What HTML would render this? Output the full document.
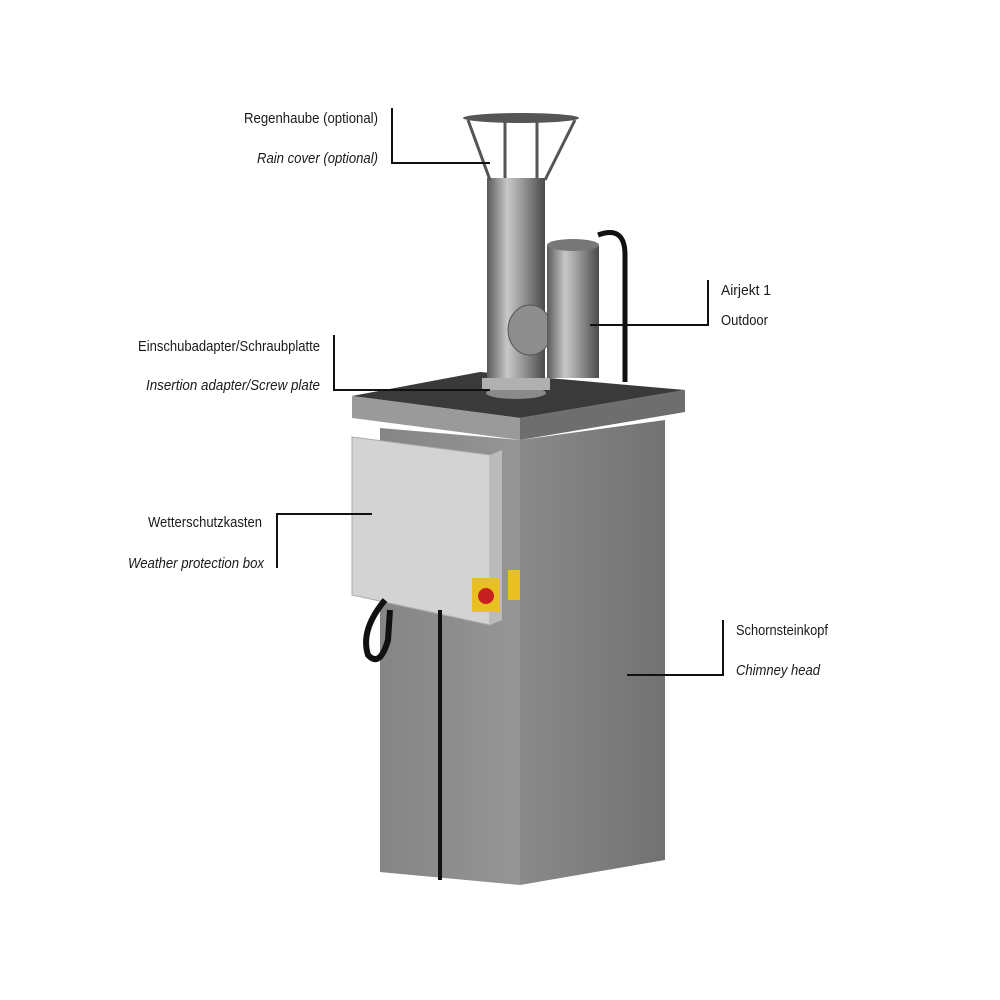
<!DOCTYPE html>
<html><head><meta charset="utf-8"><style>
html,body{margin:0;padding:0;background:#fff;width:1000px;height:1000px;overflow:hidden}
svg{display:block}
text{font-family:"Liberation Sans Narrow","Liberation Sans",sans-serif;font-size:15px;fill:#1a1a1a}
.i{font-style:italic}
</style></head><body>
<svg width="1000" height="1000" viewBox="0 0 1000 1000">
<defs>
<linearGradient id="pipe" x1="0" x2="1" y1="0" y2="0">
<stop offset="0" stop-color="#5a5a5a"/><stop offset="0.35" stop-color="#c8c8c8"/><stop offset="0.6" stop-color="#9a9a9a"/><stop offset="1" stop-color="#4a4a4a"/></linearGradient>
<linearGradient id="front" x1="0" x2="1"><stop offset="0" stop-color="#858585"/><stop offset="1" stop-color="#959595"/></linearGradient>
<linearGradient id="side" x1="0" x2="1"><stop offset="0" stop-color="#8a8a8a"/><stop offset="1" stop-color="#727272"/></linearGradient>
</defs>
<polygon points="380,428 520,440 520,885 380,872" fill="url(#front)"/>
<polygon points="520,440 665,420 665,860 520,885" fill="url(#side)"/>
<polygon points="352,396 480,372 685,390 520,418" fill="#3a3a3a"/>
<polygon points="352,396 520,418 520,440 352,418" fill="#9a9a9a"/>
<polygon points="520,418 685,390 685,412 520,440" fill="#6e6e6e"/>
<rect x="487" y="178" width="58" height="215" fill="url(#pipe)"/>
<ellipse cx="516" cy="393" rx="30" ry="6" fill="#8a8a8a"/>
<rect x="482" y="378" width="68" height="12" fill="#b0b0b0"/>
<ellipse cx="521" cy="118" rx="58" ry="5" fill="#555"/>
<g stroke="#555" stroke-width="3" fill="none">
<path d="M468,120 L490,180"/><path d="M575,120 L545,180"/><path d="M505,121 L505,178"/><path d="M537,121 L537,178"/>
</g>
<ellipse cx="530" cy="330" rx="22" ry="25" fill="#8d8d8d" stroke="#555"/>
<rect x="547" y="245" width="52" height="133" fill="url(#pipe)"/>
<ellipse cx="573" cy="245" rx="26" ry="6" fill="#777"/>
<path d="M598,235 Q625,225 625,255 L625,382" stroke="#111" stroke-width="5" fill="none"/>
<polygon points="352,437 490,455 490,625 352,595" fill="#d3d3d3" stroke="#aaa"/>
<polygon points="490,455 502,450 502,620 490,625" fill="#bbb"/>
<rect x="472" y="578" width="28" height="34" fill="#e8c021"/>
<circle cx="486" cy="596" r="8" fill="#c62020"/>
<rect x="508" y="570" width="12" height="30" fill="#e8c021"/>
<path d="M440,610 L440,880" stroke="#111" stroke-width="4" fill="none"/>
<path d="M385,600 Q360,630 368,655 Q380,668 388,640 L390,610" stroke="#111" stroke-width="6" fill="none"/>
<g stroke="#111" stroke-width="2" fill="none">
<path d="M392,108 V163 H490"/>
<path d="M708,280 V325 H590"/>
<path d="M334,335 V390 H490"/>
<path d="M277,568 V514 H372"/>
<path d="M723,620 V675 H627"/>
</g>
<text x="244" y="123" textLength="134" lengthAdjust="spacingAndGlyphs">Regenhaube (optional)</text>
<text x="257" y="163" textLength="121" lengthAdjust="spacingAndGlyphs" class="i">Rain cover (optional)</text>
<text x="721" y="295" textLength="50" lengthAdjust="spacingAndGlyphs">Airjekt 1</text>
<text x="721" y="325" textLength="47" lengthAdjust="spacingAndGlyphs">Outdoor</text>
<text x="138" y="351" textLength="182" lengthAdjust="spacingAndGlyphs">Einschubadapter/Schraubplatte</text>
<text x="146" y="390" textLength="174" lengthAdjust="spacingAndGlyphs" class="i">Insertion adapter/Screw plate</text>
<text x="148" y="527" textLength="114" lengthAdjust="spacingAndGlyphs">Wetterschutzkasten</text>
<text x="128" y="568" textLength="136" lengthAdjust="spacingAndGlyphs" class="i">Weather protection box</text>
<text x="736" y="635" textLength="92" lengthAdjust="spacingAndGlyphs">Schornsteinkopf</text>
<text x="736" y="675" textLength="84" lengthAdjust="spacingAndGlyphs" class="i">Chimney head</text>
</svg>
</body></html>
